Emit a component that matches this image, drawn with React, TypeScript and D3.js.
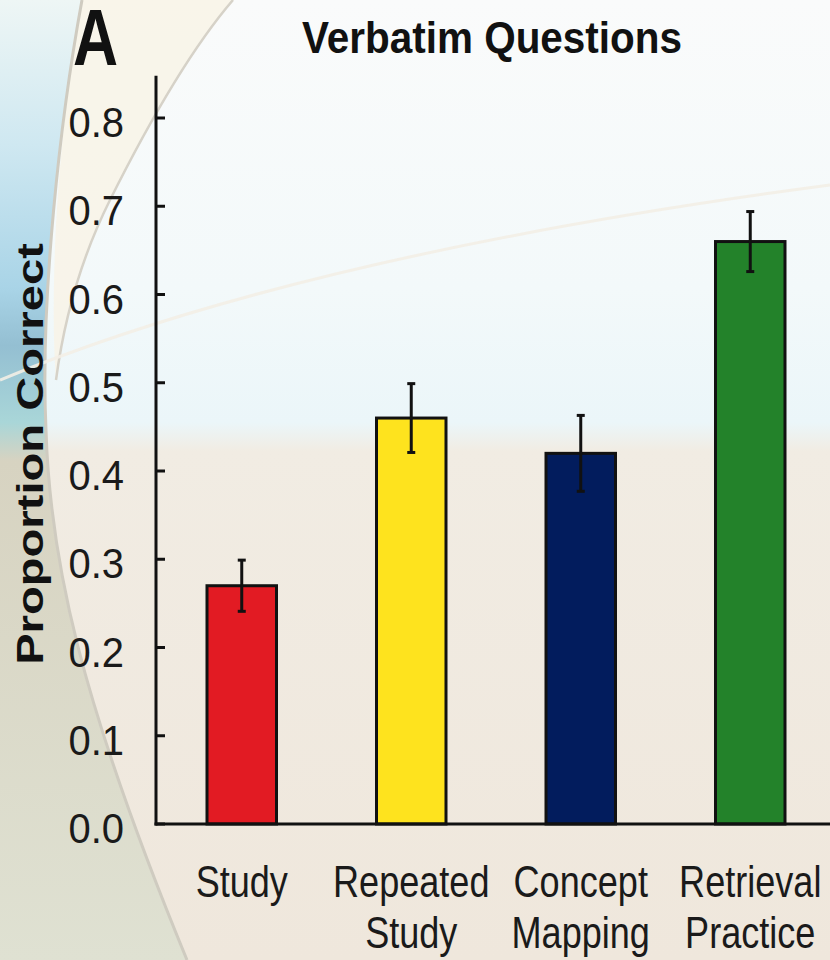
import React from 'react';
import * as d3 from 'd3';

const categories = ['Study', 'Repeated Study', 'Concept Mapping', 'Retrieval Practice'];
const labelLines = [['Study'], ['Repeated', 'Study'], ['Concept', 'Mapping'], ['Retrieval', 'Practice']];
const means = [0.27, 0.46, 0.42, 0.66];
const errors = [0.029, 0.039, 0.043, 0.034];
const barColors = ['#e21b23', '#fee31e', '#021c5d', '#23822a'];
const yTicks = [0, 0.1, 0.2, 0.3, 0.4, 0.5, 0.6, 0.7, 0.8];

const Width = 830;
const Height = 960;
const font = '"Liberation Sans", Arial, Helvetica, sans-serif';

const App = () => {
  const axisX = 156;
  const yScale = d3.scaleLinear().domain([0, 0.8]).range([824, 118]);
  const yTop = yScale(0.848);

  const xScale = d3
    .scaleBand()
    .domain(categories)
    .range([157, 835])
    .paddingInner(0.59)
    .paddingOuter(0.295);

  const fmt = d3.format('.1f');

  const bars = categories.map((c, i) => {
    const x = xScale(c) || 0;
    const cx = x + xScale.bandwidth() / 2;
    const hi = yScale(means[i] + errors[i]);
    const lo = yScale(means[i] - errors[i]);
    return (
      <g key={c}>
        <rect
          x={x}
          y={yScale(means[i])}
          width={xScale.bandwidth()}
          height={yScale(0) - yScale(means[i])}
          fill={barColors[i]}
          stroke="#111"
          strokeWidth={3}
        />
        <line x1={cx} x2={cx} y1={hi} y2={lo} stroke="#111" strokeWidth={3} />
        <line x1={cx - 4} x2={cx + 4} y1={hi} y2={hi} stroke="#111" strokeWidth={3} />
        <line x1={cx - 4} x2={cx + 4} y1={lo} y2={lo} stroke="#111" strokeWidth={3} />
        {labelLines[i].map((t, j) => (
          <text
            key={j}
            transform={`translate(${cx}, ${897 + j * 51}) scale(0.82, 1)`}
            textAnchor="middle"
            style={{ fontSize: '44px', fontFamily: font, fill: '#1a1a1a' }}
          >
            {t}
          </text>
        ))}
      </g>
    );
  });

  const ticks = yTicks.map((v) => (
    <g key={v}>
      <line x1={axisX} x2={axisX + 9} y1={yScale(v)} y2={yScale(v)} stroke="#111" strokeWidth={3} />
      <text
        transform={`translate(124, ${yScale(v) + 19}) scale(0.93, 1)`}
        textAnchor="end"
        style={{ fontSize: '43px', fontFamily: font, fill: '#1a1a1a' }}
      >
        {fmt(v)}
      </text>
    </g>
  ));

  return (
    <svg width={Width} height={Height} style={{ position: 'absolute', left: 0, top: 0 }}>
      <defs>
        <linearGradient id="bg" x1="0" y1="0" x2="0" y2="1">
          <stop offset="0" stopColor="#fafbfb" />
          <stop offset="0.3" stopColor="#f3f9fa" />
          <stop offset="0.44" stopColor="#ebf6f9" />
          <stop offset="0.47" stopColor="#f1ece3" />
          <stop offset="1" stopColor="#efe7dc" />
        </linearGradient>
        <linearGradient id="left" x1="0" y1="0" x2="0" y2="1">
          <stop offset="0" stopColor="#eef6f5" />
          <stop offset="0.15" stopColor="#cfe8f1" />
          <stop offset="0.3" stopColor="#a9d4e7" />
          <stop offset="0.36" stopColor="#94bfd2" />
          <stop offset="0.44" stopColor="#a9d6d8" />
          <stop offset="0.48" stopColor="#d7d3c1" />
          <stop offset="1" stopColor="#dfe1d2" />
        </linearGradient>
      </defs>
      <rect x={0} y={0} width={Width} height={Height} fill="url(#bg)" />
      <path
        d="M0,0 L82,0 C60,120 40,300 46,430 C50,560 80,700 187,960 L0,960 Z"
        fill="url(#left)"
      />
      <path
        d="M82,0 L233,0 C190,50 150,120 110,200 C80,260 64,320 56,380 C50,300 55,150 82,0 Z"
        fill="#f8f3e6"
        opacity={0.85}
      />
      <path d="M233,0 C190,50 150,120 110,200 C80,260 64,320 56,380" fill="none" stroke="#d6d2c8" strokeWidth={2.5} />
      <path
        d="M82,0 C60,120 40,300 46,430 C50,560 80,700 187,960"
        fill="none"
        stroke="#cfcbc0"
        strokeWidth={3}
      />
      <path d="M0,380 Q300,255 830,185" fill="none" stroke="#f3eee6" strokeWidth={3} opacity={0.9} />

      <text
        transform="translate(73, 65) scale(0.78, 1)"
        style={{ fontSize: '80px', fontFamily: font, fontWeight: 'bold', fill: '#111' }}
      >
        A
      </text>
      <text
        transform="translate(492, 53) scale(0.92, 1)"
        textAnchor="middle"
        style={{ fontSize: '44px', fontFamily: font, fontWeight: 'bold', fill: '#111' }}
      >
        Verbatim Questions
      </text>
      <text
        transform="translate(43, 454) rotate(-90) scale(1.31, 1)"
        textAnchor="middle"
        style={{ fontSize: '36px', fontFamily: font, fontWeight: 'bold', fill: '#111' }}
      >
        Proportion Correct
      </text>

      <g>{bars}</g>
      <g>{ticks}</g>
      <line x1={axisX} x2={axisX} y1={yTop} y2={yScale(0) + 1.5} stroke="#111" strokeWidth={3} />
      <line x1={axisX - 1.5} x2={Width} y1={yScale(0)} y2={yScale(0)} stroke="#111" strokeWidth={3} />
    </svg>
  );
};

export default App;
